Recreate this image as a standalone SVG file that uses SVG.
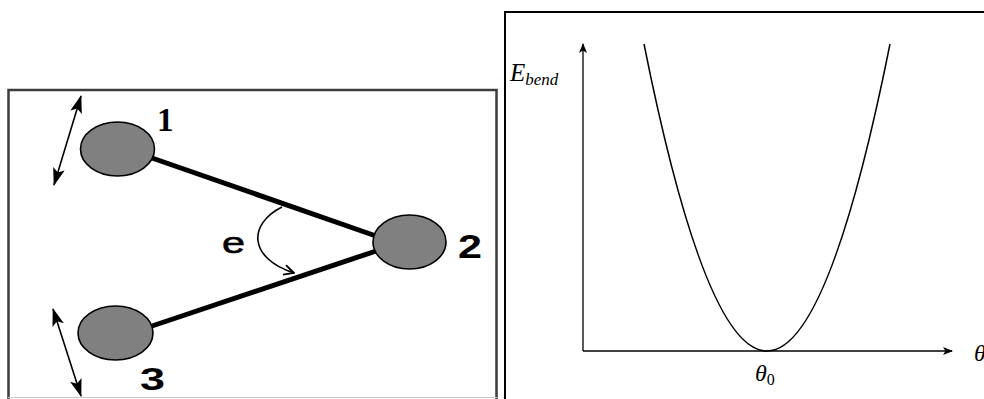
<svg xmlns="http://www.w3.org/2000/svg" width="984" height="399" viewBox="0 0 984 399">
<style>
.atom{fill:#808080;stroke:#000;stroke-width:1.6}
.bond{stroke:#000;stroke-width:5;fill:none;stroke-linecap:round}
.thin{stroke:#000;stroke-width:1.6;fill:none}
.axis{stroke:#000;stroke-width:1.3;fill:none}
.num{font-family:"Liberation Sans",Arial,sans-serif;font-weight:bold;fill:#000}
.math{font-family:"Liberation Serif","Times New Roman",serif;font-style:italic;fill:#000}
</style>
<defs>
<marker id="tri" viewBox="0 0 10 10" refX="9" refY="5" markerWidth="10" markerHeight="10" markerUnits="userSpaceOnUse" orient="auto-start-reverse">
<path d="M0,1 L10,5 L0,9 L2.5,5 Z" fill="#000"/>
</marker>
<marker id="big" viewBox="0 0 18 12" refX="17" refY="6" markerWidth="18" markerHeight="12" markerUnits="userSpaceOnUse" orient="auto-start-reverse">
<path d="M0,0 L18,6 L0,12 L4,6 Z" fill="#000"/>
</marker>
<marker id="open" viewBox="0 0 12 12" refX="11" refY="6" markerWidth="12" markerHeight="12" markerUnits="userSpaceOnUse" orient="auto">
<path d="M1,1 L11,6 L1,11" fill="none" stroke="#000" stroke-width="1.8"/>
</marker>
</defs>

<g id="left-panel">
<path d="M8.5,399 L8.5,90 L496.5,90 L496.5,399" fill="none" stroke="#3c3c3c" stroke-width="2.5"/>
<line x1="8" y1="397.5" x2="497" y2="397.5" stroke="#c8c8c8" stroke-width="1"/>
</g>

<g id="connectors">
<line class="bond" x1="152" y1="158" x2="376" y2="236"/>
<line class="bond" x1="152" y1="326" x2="376" y2="251"/>
<path class="thin" d="M282,207 C248,224 248,258 294,273" marker-end="url(#open)"/>
<line class="thin" x1="81" y1="96" x2="54" y2="185" marker-start="url(#big)" marker-end="url(#big)"/>
<line class="thin" x1="53" y1="309" x2="81" y2="396" marker-start="url(#big)" marker-end="url(#big)"/>
</g>

<g id="atom1">
<ellipse class="atom" cx="117.5" cy="149" rx="37" ry="27"/>
<text x="157" y="131" font-family="Liberation Serif,serif" font-weight="bold" font-size="33" fill="#000">1</text>
</g>
<g id="atom2">
<ellipse class="atom" cx="409.5" cy="242" rx="36.5" ry="27"/>
<text class="num" x="458" y="258" font-size="33" textLength="24" lengthAdjust="spacingAndGlyphs">2</text>
</g>
<g id="atom3">
<ellipse class="atom" cx="115.5" cy="333" rx="37.5" ry="27"/>
<text class="num" x="140" y="390" font-size="32" textLength="25" lengthAdjust="spacingAndGlyphs">3</text>
</g>
<g id="angle-label">
<text x="222" y="253" font-family="Liberation Sans,sans-serif" font-size="30" stroke="#000" stroke-width="0.6" textLength="23" lengthAdjust="spacingAndGlyphs" fill="#000">e</text>
</g>

<g id="right-panel">
<path d="M505,399 L505,12 L984,12" fill="none" stroke="#000" stroke-width="2"/>
<line class="axis" x1="583" y1="351" x2="583" y2="44" marker-end="url(#tri)"/>
<line class="axis" x1="583" y1="351" x2="952" y2="351" marker-end="url(#tri)"/>
<path d="M644,44 Q767,658 890,44" fill="none" stroke="#000" stroke-width="1.5"/>
<text class="math" x="510" y="81" font-size="25">E<tspan font-size="17" dy="4">bend</tspan></text>
<text class="math" x="755" y="381" font-size="24">θ<tspan font-style="normal" font-size="16" dy="4">0</tspan></text>
<text class="math" x="974" y="361" font-size="24">θ</text>
</g>
</svg>
